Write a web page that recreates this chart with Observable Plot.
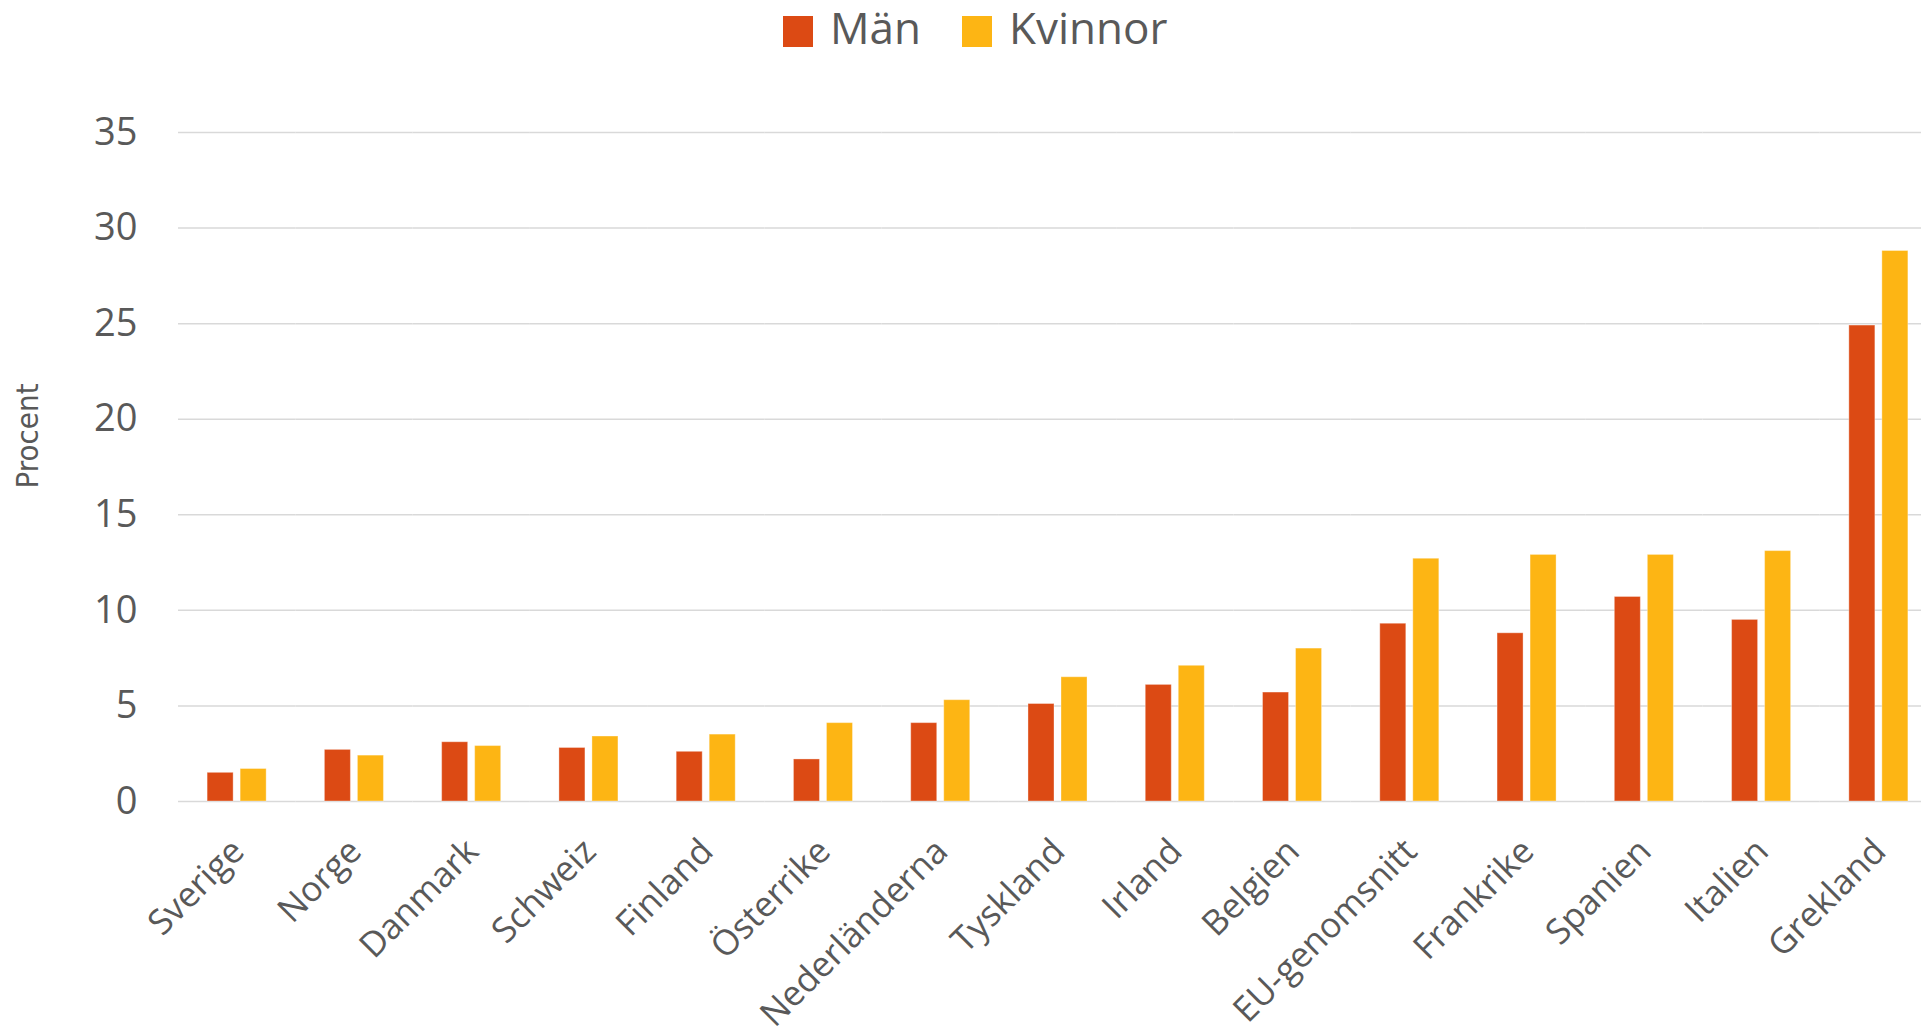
<!DOCTYPE html>
<html>
<head>
<meta charset="utf-8">
<script src="https://cdn.jsdelivr.net/npm/d3@7"></script>
<script src="https://cdn.jsdelivr.net/npm/@observablehq/plot@0.6"></script>
<style>
  html, body { margin: 0; padding: 0; background: #fff; overflow: hidden; width: 1921px; height: 1032px; }
  #legend { position: relative; height: 60px; font-family: 'Open Sans', sans-serif; color: #595959; }
  .sw { position: absolute; top: 16px; width: 30px; height: 31px; }
  .lab { position: absolute; top: -3px; font-size: 44px; line-height: 60px; white-space: nowrap; }
  #chart svg { display: block; max-width: none !important; }
</style>
</head>
<body>
<div id="legend"></div>
<div id="chart"></div>
<script>
const countries = ["Sverige","Norge","Danmark","Schweiz","Finland","Österrike","Nederländerna","Tyskland","Irland","Belgien","EU-genomsnitt","Frankrike","Spanien","Italien","Grekland"];
const man =     [1.5, 2.7, 3.1, 2.8, 2.6, 2.2, 4.1, 5.1, 6.1, 5.7, 9.3, 8.8, 10.7, 9.5, 24.9];
const kvinnor = [1.7, 2.4, 2.9, 3.4, 3.5, 4.1, 5.3, 6.5, 7.1, 8.0, 12.7, 12.9, 12.9, 13.1, 28.8];
const series = ["Män", "Kvinnor"];
const colors = ["#DC4A14", "#FDB514"];
const yTicks = [0, 5, 10, 15, 20, 25, 30, 35];
const yLabel = "Procent";

const rows = [];
countries.forEach((c, i) => {
  rows.push({country: c, sex: series[0], value: man[i]});
  rows.push({country: c, sex: series[1], value: kvinnor[i]});
});

// legend
const legend = document.getElementById("legend");
const legendPos = [{sw: 783, lab: 830}, {sw: 962, lab: 1009}];
series.forEach((s, i) => {
  const sw = document.createElement("div");
  sw.className = "sw";
  sw.style.left = legendPos[i].sw + "px";
  sw.style.background = colors[i];
  legend.appendChild(sw);
  const lab = document.createElement("div");
  lab.className = "lab";
  lab.style.left = legendPos[i].lab + "px";
  lab.textContent = s;
  legend.appendChild(lab);
});

const chart = Plot.plot({
  width: 1937,
  height: 972,
  marginTop: 72,
  marginBottom: 231,
  marginLeft: 178,
  marginRight: 0,
  style: {fontFamily: "'Open Sans', sans-serif", fontSize: "38px", color: "#595959", background: "white", overflow: "visible"},
  fx: {domain: countries, padding: 0, label: null, axis: null, round: false},
  x: {domain: series, axis: null, paddingInner: 7 / 33, paddingOuter: 0.8818, round: false},
  y: {domain: [0, 35], ticks: yTicks, tickSize: 0, tickPadding: 41, label: null, tickFormat: d => String(d)},
  color: {domain: series, range: colors},
  marks: [
    Plot.ruleY(yTicks, {stroke: "#d9d9d9", strokeWidth: 1.5}),
    Plot.barY(rows, {fx: "country", x: "sex", y: "value", fill: "sex", stroke: "white", strokeOpacity: 0.35, strokeWidth: 1}),
    Plot.axisFx({anchor: "bottom", tickRotate: -45, tickSize: 0, tickPadding: 44, dx: 1, fontSize: 35, label: null}),
    Plot.text([countries[0]], {fx: d => d, text: () => yLabel, frameAnchor: "left", textAnchor: "middle", rotate: -90, dx: -150, dy: -31, fontSize: 31, fontFamily: "'Liberation Sans Narrow', 'DejaVu Sans Condensed', sans-serif", fill: "#595959"})
  ]
});
document.getElementById("chart").appendChild(chart);
</script>
</body>
</html>
